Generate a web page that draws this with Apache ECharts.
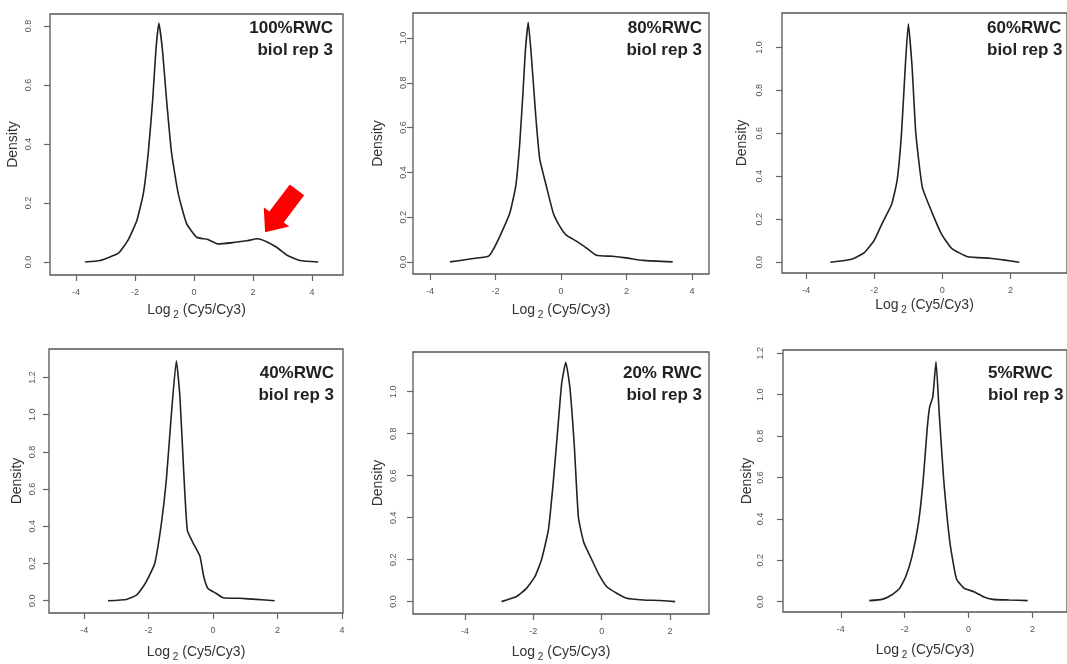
<!DOCTYPE html>
<html><head><meta charset="utf-8">
<script src="https://cdn.jsdelivr.net/npm/echarts@6/dist/echarts.min.js"></script>
<style>html,body{margin:0;padding:0;background:#fff;}#c{width:1067px;height:664px;}</style>
</head><body><div id="c"></div><script>
// ---------- data ----------
const panelTitles = [
  ['100%RWC', 'biol rep 3'],
  ['80%RWC', 'biol rep 3'],
  ['60%RWC', 'biol rep 3'],
  ['40%RWC', 'biol rep 3'],
  ['20% RWC', 'biol rep 3'],
  ['5%RWC', 'biol rep 3']
];
const rwc100X = [-3.69,-3.19,-2.56,-2.23,-1.94,-1.72,-1.55,-1.40,-1.29,-1.19,-1.07,-0.93,-0.76,-0.53,-0.25,0.09,0.45,0.82,1.33,1.79,2.15,2.46,2.80,3.14,3.59,4.21];
const rwc100Y = [0.0,0.005,0.03,0.075,0.14,0.23,0.37,0.55,0.72,0.81,0.72,0.55,0.37,0.23,0.13,0.084,0.077,0.061,0.066,0.072,0.079,0.069,0.05,0.024,0.005,0.0];
const rwc80X = [-3.39,-2.78,-2.22,-2.07,-1.82,-1.56,-1.38,-1.26,-1.16,-1.09,-1.0,-0.90,-0.77,-0.65,-0.45,-0.24,-0.04,0.16,0.47,0.77,1.08,1.58,1.99,2.50,3.41];
const rwc80Y = [0.0,0.013,0.025,0.055,0.13,0.22,0.34,0.53,0.76,0.94,1.07,0.91,0.65,0.46,0.34,0.22,0.16,0.12,0.093,0.063,0.03,0.025,0.018,0.007,0.0];
const rwc60X = [-3.29,-2.67,-2.29,-2.01,-1.77,-1.49,-1.33,-1.20,-1.09,-1.0,-0.89,-0.78,-0.59,-0.30,-0.02,0.27,0.74,1.40,1.78,2.26];
const rwc60Y = [0.0,0.014,0.045,0.10,0.18,0.27,0.38,0.60,0.91,1.11,0.91,0.60,0.35,0.23,0.13,0.065,0.026,0.019,0.011,0.0];
const rwc40X = [-3.26,-2.69,-2.38,-2.17,-2.02,-1.81,-1.60,-1.45,-1.29,-1.14,-1.03,-0.91,-0.80,-0.62,-0.41,-0.29,-0.16,0.10,0.31,0.83,1.34,1.91];
const rwc40Y = [0.0,0.007,0.03,0.075,0.12,0.20,0.42,0.65,1.01,1.29,1.10,0.69,0.38,0.31,0.24,0.13,0.066,0.039,0.016,0.013,0.007,0.0];
const rwc20X = [-2.93,-2.49,-2.20,-1.95,-1.76,-1.56,-1.41,-1.27,-1.17,-1.05,-0.93,-0.80,-0.68,-0.52,-0.29,-0.10,0.15,0.44,0.73,1.22,1.71,2.15];
const rwc20Y = [0.0,0.024,0.063,0.12,0.20,0.34,0.58,0.85,1.04,1.14,1.02,0.74,0.40,0.28,0.20,0.135,0.071,0.04,0.016,0.008,0.005,0.0];
const rwc5X = [-3.11,-2.71,-2.41,-2.16,-1.97,-1.77,-1.57,-1.42,-1.30,-1.22,-1.12,-1.02,-0.92,-0.78,-0.58,-0.38,-0.13,0.17,0.46,0.76,1.26,1.85];
const rwc5Y = [0.005,0.011,0.032,0.064,0.12,0.22,0.38,0.59,0.83,0.94,0.99,1.16,0.91,0.59,0.28,0.11,0.064,0.048,0.024,0.011,0.008,0.005];

const xTicksFull = [-4, -2, 0, 2, 4];
const xTicksShort = [-4, -2, 0, 2];
const yTicks08 = [0, 0.2, 0.4, 0.6, 0.8];
const yTicks10 = [0, 0.2, 0.4, 0.6, 0.8, 1.0];
const yTicks12 = [0, 0.2, 0.4, 0.6, 0.8, 1.0, 1.2];
const arrowAt = [2.95, 0.173];

const seriesX = [rwc100X, rwc80X, rwc60X, rwc40X, rwc20X, rwc5X];
const seriesY = [rwc100Y, rwc80Y, rwc60Y, rwc40Y, rwc20Y, rwc5Y];
const xTickSets = [xTicksFull, xTicksFull, xTicksShort, xTicksFull, xTicksShort, xTicksShort];
const yTickSets = [yTicks08, yTicks10, yTicks10, yTicks12, yTicks10, yTicks12];

// ---------- layout (pixels / axis windows) ----------
const layout = [
  {left:50,  top:14,  width:293, height:261, xmin:-4.88, xmax:5.05, ymin:-0.044, ymax:0.841, ylm:17, yng:30, xng:25, t:{x:333, y:28, align:'right'}},
  {left:413, top:13,  width:296, height:261, xmin:-4.52, xmax:4.52, ymin:-0.054, ymax:1.112, ylm:5,  yng:28, xng:26, t:{x:702, y:28, align:'right'}},
  {left:782, top:13,  width:296, height:260, xmin:-4.71, xmax:3.66, ymin:-0.05,  ymax:1.16,  ylm:18, yng:33, xng:22, t:{x:987, y:28, align:'left'}},
  {left:49,  top:349, width:294, height:264, xmin:-5.09, xmax:4.03, ymin:-0.066, ymax:1.353, ylm:12, yng:25, xng:29, t:{x:334, y:373, align:'right'}},
  {left:413, top:352, width:296, height:262, xmin:-5.52, xmax:3.14, ymin:-0.059, ymax:1.189, ylm:15, yng:28, xng:28, t:{x:702, y:373, align:'right'}},
  {left:783, top:350, width:296, height:262, xmin:-5.81, xmax:3.08, ymin:-0.05,  ymax:1.216, ylm:18, yng:29, xng:28, t:{x:988, y:373, align:'left'}}
];

const FONT = 'Liberation Sans, Arial, sans-serif';
const grids = [], xAxes = [], yAxes = [], series = [], graphics = [];
layout.forEach((L, i) => {
  grids.push({left:L.left, top:L.top, width:L.width, height:L.height, show:true, borderColor:'#555', borderWidth:1.3, backgroundColor:'transparent'});
  xAxes.push({
    type:'value', gridIndex:i, min:L.xmin, max:L.xmax,
    axisLine:{show:false, onZero:false},
    splitLine:{show:false},
    axisTick:{show:true, length:6, customValues:xTickSets[i], lineStyle:{color:'#666', width:1.2}},
    axisLabel:{customValues:xTickSets[i], margin:13, fontSize:9, color:'#555', fontFamily:FONT, formatter:v=>String(v)},
    name:'{a|Log}{s| 2}{a| (Cy5/Cy3)}', nameLocation:'middle', nameGap:L.xng,
    nameTextStyle:{fontFamily:FONT, color:'#333', rich:{
      a:{fontSize:14, lineHeight:20, fontFamily:FONT, color:'#333'},
      s:{fontSize:10, lineHeight:10, verticalAlign:'bottom', fontFamily:FONT, color:'#333'}
    }}
  });
  yAxes.push({
    type:'value', gridIndex:i, min:L.ymin, max:L.ymax,
    axisLine:{show:false, onZero:false},
    splitLine:{show:false},
    axisTick:{show:true, length:6, customValues:yTickSets[i], lineStyle:{color:'#666', width:1.2}},
    axisLabel:{customValues:yTickSets[i], rotate:90, margin:L.ylm, fontSize:9, color:'#555', fontFamily:FONT, formatter:v=>v.toFixed(1)},
    name:'Density', nameLocation:'middle', nameGap:L.yng,
    nameTextStyle:{fontSize:14, color:'#333', fontFamily:FONT}
  });
  series.push({
    type:'line', xAxisIndex:i, yAxisIndex:i, symbol:'none', smooth:0.15,
    lineStyle:{color:'#222', width:1.6},
    data: seriesX[i].map((x, k) => [x, seriesY[i][k]])
  });
  graphics.push({type:'text', x:L.t.x, y:L.t.y, style:{text:panelTitles[i][0], align:L.t.align, verticalAlign:'middle', font:'bold 17px ' + FONT, fill:'#222'}});
  graphics.push({type:'text', x:L.t.x, y:L.t.y + 22, style:{text:panelTitles[i][1], align:L.t.align, verticalAlign:'middle', font:'bold 17px ' + FONT, fill:'#222'}});
});
// red arrow annotation in first panel
series.push({
  type:'scatter', xAxisIndex:0, yAxisIndex:0, silent:true,
  symbol:'path://M7,0 L25,0 L25,34 L32,34 L16,53 L0,34 L7,34 Z',
  symbolSize:[32,53], symbolRotate:-37,
  itemStyle:{color:'#ff0000', opacity:1},
  data:[arrowAt]
});

const chart = echarts.init(document.getElementById('c'), null, {renderer:'canvas'});
chart.setOption({
  backgroundColor:'#fff', animation:false,
  grid:grids, xAxis:xAxes, yAxis:yAxes, series:series, graphic:graphics
});
</script></body></html>
